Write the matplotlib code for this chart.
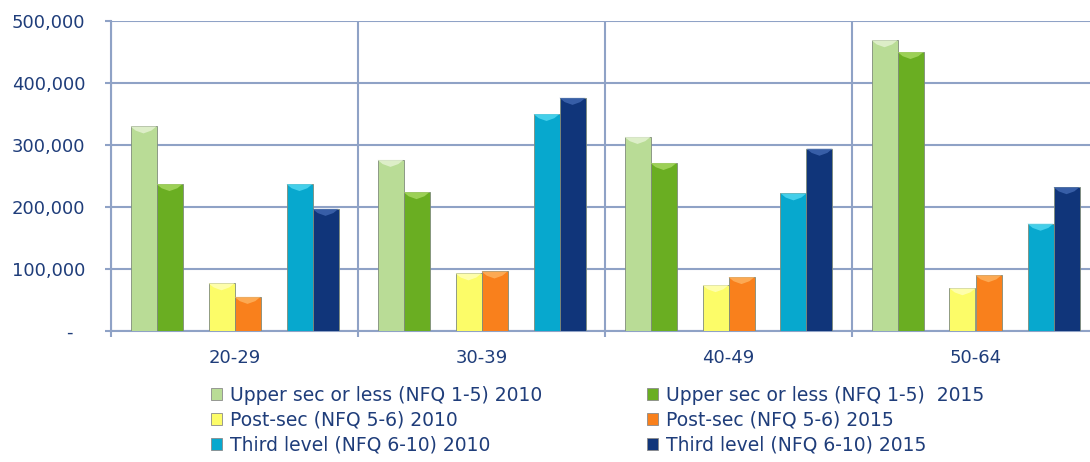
import numpy as np
import matplotlib
matplotlib.use("Agg")
import matplotlib.pyplot as plt
from matplotlib.patches import Polygon, Patch

# data
age_groups = ["20-29", "30-39", "40-49", "50-64"]
series_names = [
    "Upper sec or less (NFQ 1-5) 2010",
    "Upper sec or less (NFQ 1-5)  2015",
    "Post-sec (NFQ 5-6) 2010",
    "Post-sec (NFQ 5-6) 2015",
    "Third level (NFQ 6-10) 2010",
    "Third level (NFQ 6-10) 2015",
]
upper_2010 = [330000, 276000, 313000, 469000]
upper_2015 = [237000, 224000, 271000, 450000]
post_2010 = [77000, 93000, 74000, 69000]
post_2015 = [55000, 96000, 87000, 90000]
third_2010 = [237000, 350000, 222000, 173000]
third_2015 = [197000, 376000, 294000, 232000]
y_ticks = [0, 100000, 200000, 300000, 400000, 500000]
y_tick_labels = ["-  ", "100,000", "200,000", "300,000", "400,000", "500,000"]

series = [upper_2010, upper_2015, post_2010, post_2015, third_2010, third_2015]
colors = ["#B9DC96", "#6AAE22", "#FCFC68", "#F9801C", "#07A8CE", "#10357A"]
bevel = ["#E4F2D2", "#A6D760", "#FFFFB8", "#FDB15E", "#4FD6F0", "#3F66B0"]
slots = [0, 1, 3, 4, 6, 7]

text_col = "#1F3D7A"
grid_col = "#8FA2C6"

fig = plt.figure(figsize=(10.9, 4.62), dpi=100)
ax = fig.add_axes([111 / 1090, 1 - 331 / 462, 988 / 1090, 310 / 462])

x = np.arange(len(age_groups))
w = 26 / 247
px_per_unit = 310 / 500000
depth = 7 / px_per_unit

handles = []
for vals, c, bc, k, name in zip(series, colors, bevel, slots, series_names):
    bars = ax.bar(x + (k - 3.5) * w, vals, width=w, color=c, edgecolor="#7F8C7A",
                  linewidth=0.6, zorder=3)
    # bevel highlight on top of each bar
    for r in bars:
        x0 = r.get_x()
        x1 = x0 + r.get_width()
        top = r.get_height()
        ax.add_patch(Polygon([(x0, top), (x1, top), (x1 - w * 0.2, top - depth * 0.6),
                              ((x0 + x1) / 2, top - depth), (x0 + w * 0.2, top - depth * 0.6)],
                             closed=True, facecolor=bc, edgecolor="none", alpha=0.85, zorder=4))
    handles.append(Patch(facecolor=c, edgecolor="#8A8A8A", linewidth=0.6, label=name))

ax.set_xlim(-0.5, 3.5)
ax.set_ylim(0, 500000)
ax.set_yticks(y_ticks)
ax.set_yticklabels(y_tick_labels)
ax.set_xticks(x)
ax.set_xticklabels(age_groups)
ax.set_xticks(np.arange(-0.5, 4, 1), minor=True)

ax.grid(axis="y", color=grid_col, linewidth=1.5, zorder=0)
ax.grid(axis="x", which="minor", color=grid_col, linewidth=1.5, zorder=0)
for s in ["top", "right"]:
    ax.spines[s].set_visible(False)
for s in ["left", "bottom"]:
    ax.spines[s].set_color(grid_col)
    ax.spines[s].set_linewidth(1.5)

ax.tick_params(axis="y", length=4.5, width=1.5, color=grid_col, pad=14,
               labelsize=13, labelcolor=text_col)
ax.tick_params(axis="x", which="major", length=0, pad=13, labelsize=13, labelcolor=text_col)
ax.tick_params(axis="x", which="minor", length=4.5, width=1.5, color=grid_col)

fig.legend(handles=handles[0::2] + handles[1::2], ncol=2, frameon=False,
           loc="upper left", bbox_to_anchor=(211 / 1090, 1 - 386 / 462),
           borderpad=0, borderaxespad=0, fontsize=13.5, labelcolor=text_col,
           handlelength=0.6, handleheight=0.6, handletextpad=0.4,
           columnspacing=5.6, labelspacing=0.3)

fig.savefig("out.png", dpi=100)
